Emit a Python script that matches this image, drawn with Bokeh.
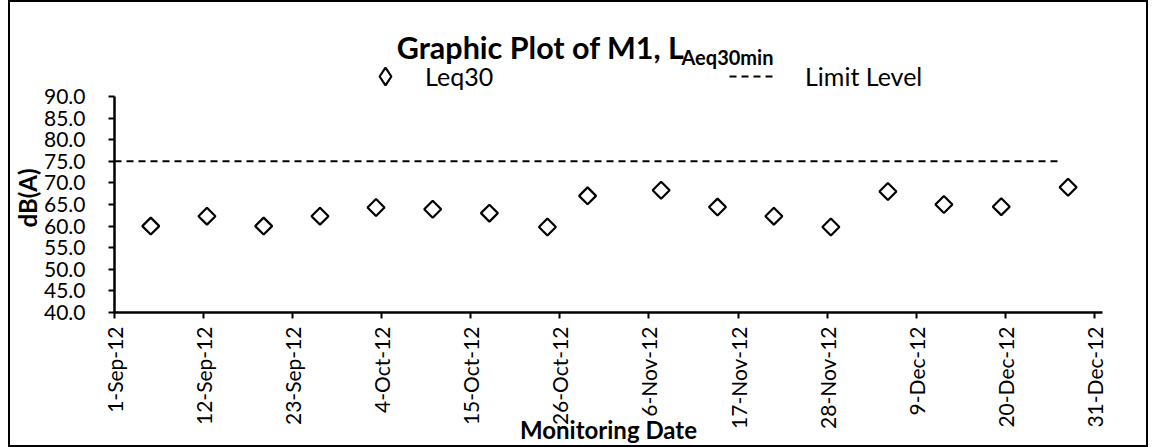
import math
import pandas as pd
from bokeh.plotting import figure
from bokeh.models import (ColumnDataSource, Range1d, FixedTicker, Label, Legend,
                          LegendItem, NumeralTickFormatter, Title)
from bokeh.embed import file_html
from bokeh.resources import INLINE

# ---- data ----
dates = ["2012-09-05 11:30", "2012-09-12 10:00", "2012-09-19 10:00", "2012-09-26 09:00",
         "2012-10-03 07:00", "2012-10-10 07:00", "2012-10-17 07:00", "2012-10-24 11:00",
         "2012-10-29 10:00", "2012-11-07 12:00", "2012-11-14 11:00", "2012-11-21 10:00",
         "2012-11-28 11:00", "2012-12-05 12:00", "2012-12-12 10:00", "2012-12-19 12:00",
         "2012-12-27 18:00"]
leq30 = [60.0, 62.3, 60.0, 62.3, 64.3, 63.9, 63.0, 59.8, 67.0, 68.3, 64.4, 62.3,
         59.8, 68.0, 65.0, 64.5, 69.0]
limit_dates = ["2012-09-01 00:00", "2012-12-27 00:00"]
limit_values = [75.0, 75.0]

x_tick_dates = ["2012-09-01", "2012-09-12", "2012-09-23", "2012-10-04", "2012-10-15",
                "2012-10-26", "2012-11-06", "2012-11-17", "2012-11-28", "2012-12-09",
                "2012-12-20", "2012-12-31"]
x_tick_labels = ["1-Sep-12", "12-Sep-12", "23-Sep-12", "4-Oct-12", "15-Oct-12",
                 "26-Oct-12", "6-Nov-12", "17-Nov-12", "28-Nov-12", "9-Dec-12",
                 "20-Dec-12", "31-Dec-12"]
y_ticks = [40, 45, 50, 55, 60, 65, 70, 75, 80, 85, 90]
y_min, y_max = 40, 90

FONT = "Lato"

def ms(s):
    return pd.Timestamp(s).value / 1e6

src = ColumnDataSource(dict(x=[pd.Timestamp(d) for d in dates], y=leq30))
lim = ColumnDataSource(dict(x=[pd.Timestamp(d) for d in limit_dates], y=limit_values))
# swatch-only renderer for the legend (a NaN value draws nothing on the plot)
legend_src = ColumnDataSource(dict(x=[pd.Timestamp(dates[0])], y=[float("nan")]))

# layout geometry (pixels)
W, H = 1140, 447          # element size, 2px css border
CH = H                    # canvas height
BL, BR, BB = 102, 48, 137
FRAME_H = CH - BB         # frame reaches the top of the canvas; title/legend live inside it
AXIS_PX = 216             # pixels spanned by 40..90
y_top = y_min + FRAME_H * (y_max - y_min) / AXIS_PX

p = figure(width=W, height=H, x_axis_type="datetime",
           x_range=Range1d(ms("2012-09-01"), ms("2013-01-01")),
           y_range=Range1d(y_min, y_top),
           output_backend="svg", toolbar_location=None,
           min_border_left=BL, min_border_right=BR,
           min_border_top=0, min_border_bottom=BB,
           styles={"border": "2px solid black", "margin-left": "8px"})
p.outline_line_color = None
p.grid.visible = False
p.background_fill_color = "white"
p.border_fill_color = "white"

r_lim = p.line(x="x", y="y", source=lim, line_color="black", line_width=2,
               line_dash="7 5")
r_pts = p.scatter(x="x", y="y", source=src, marker="square", angle=math.pi / 4,
                  size=12, fill_color="white", line_color="black", line_width=2.2)
r_swatch = p.scatter(x="x", y="y", source=legend_src, marker="diamond",
                     fill_color="white", line_color="black", line_width=2.2)

# axes
for ax in (p.xaxis[0], p.yaxis[0]):
    ax.axis_line_width = 2.5
    ax.axis_line_color = "black"
    ax.major_tick_line_width = 2
    ax.major_tick_line_color = "black"
    ax.major_tick_out = 6
    ax.major_tick_in = 0
    ax.minor_tick_line_color = None
    ax.major_label_text_font = FONT
    ax.major_label_text_font_size = "21px"
    ax.major_label_text_color = "black"
    ax.axis_label_text_font = FONT
    ax.axis_label_text_font_style = "bold"
    ax.axis_label_text_font_size = "24px"
    ax.axis_label_text_color = "black"

tick_ms = [ms(d) for d in x_tick_dates]
p.xaxis[0].ticker = FixedTicker(ticks=tick_ms)
p.xaxis[0].major_label_overrides = {t: l for t, l in zip(tick_ms, x_tick_labels)}
p.xaxis[0].major_label_orientation = math.pi / 2
p.xaxis[0].major_label_standoff = 8
p.xaxis[0].axis_label = "Monitoring Date"
p.xaxis[0].axis_label_standoff = -17

p.yaxis[0].ticker = FixedTicker(ticks=y_ticks)
p.yaxis[0].bounds = (y_min, y_max)
p.yaxis[0].formatter = NumeralTickFormatter(format="0.0")
p.yaxis[0].major_label_standoff = 23

# y-axis title as a side-panel title so it can sit beside the 40..90 part of the axis
p.add_layout(Title(text="dB(A)", align="left", offset=85, standoff=0,
                   text_font=FONT, text_font_style="bold", text_font_size="24px",
                   text_color="black"), "left")

# legends (two, so each entry can sit where it does in the reference)
common = dict(orientation="horizontal", glyph_width=44, glyph_height=44,
              padding=0, margin=0, border_line_color=None, background_fill_alpha=0,
              label_text_font=FONT, label_text_font_size="25px",
              label_text_color="black")
p.add_layout(Legend(items=[LegendItem(label="Leq30", renderers=[r_swatch])],
                    location=(249, 214), label_standoff=18, **common))
p.add_layout(Legend(items=[LegendItem(label="Limit Level", renderers=[r_lim])],
                    location=(615, 214), label_standoff=32, **common))

# title with subscript
p.add_layout(Label(x=570, y=266, x_units="screen", y_units="screen",
                   text="Graphic Plot of M1, L", text_align="right",
                   text_baseline="middle", text_font=FONT, text_font_style="bold",
                   text_font_size="30.5px", text_color="black"))
p.add_layout(Label(x=567, y=255.3, x_units="screen", y_units="screen",
                   text="Aeq30min", text_align="left",
                   text_baseline="middle", text_font=FONT, text_font_style="bold",
                   text_font_size="20px", text_color="black"))

open("out.html", "w").write(file_html(p, INLINE))
